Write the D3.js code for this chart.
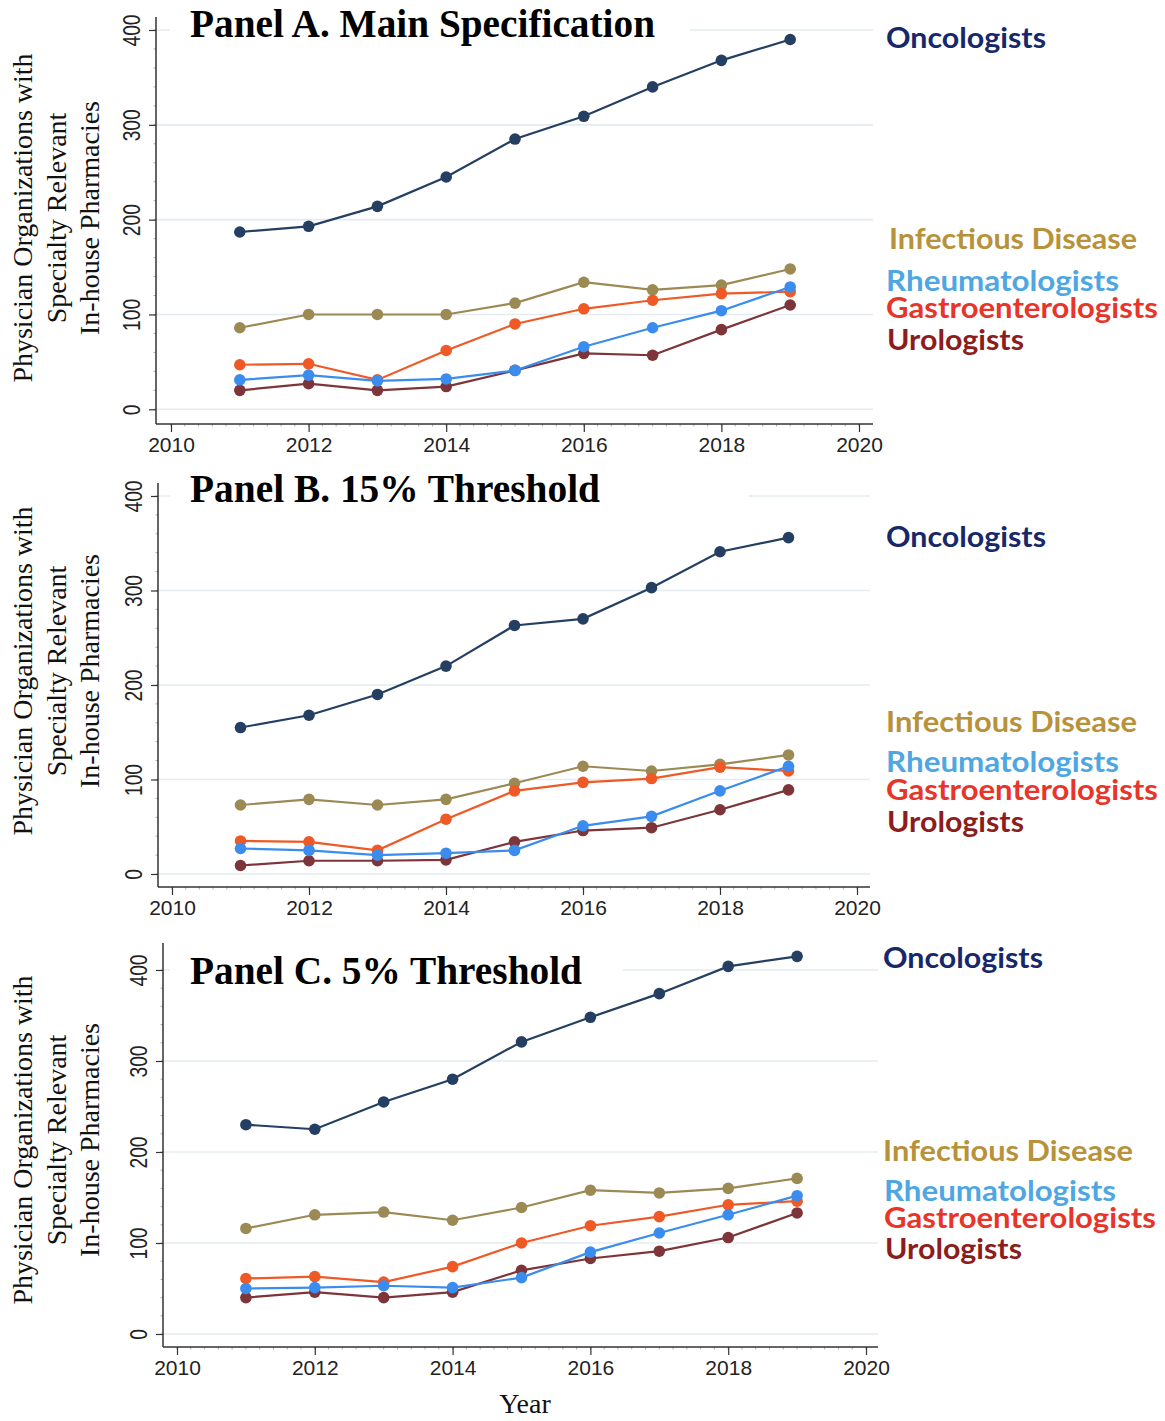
<!DOCTYPE html>
<html><head><meta charset="utf-8">
<script src="https://cdn.jsdelivr.net/npm/d3@7"></script>
<style>body{margin:0;background:#fff}svg{display:block}</style>
</head><body><svg id="c" width="1165" height="1421"></svg>
<script>
// ---------- DATA ----------
const years = [2011, 2012, 2013, 2014, 2015, 2016, 2017, 2018, 2019];
const xTicks = [2010, 2012, 2014, 2016, 2018, 2020];
const yTicks = [0, 100, 200, 300, 400];
const specialties = ["Oncologists", "Infectious Disease", "Rheumatologists", "Gastroenterologists", "Urologists"];
const panelTitles = ["Panel A. Main Specification", "Panel B. 15% Threshold", "Panel C. 5% Threshold"];
const yTitleLines = ["Physician Organizations with", "Specialty Relevant", "In-house Pharmacies"];
const xTitle = "Year";

// Panel A: main specification
const oncA   = [187, 193, 214, 245, 285, 309, 340, 368, 390];
const infA   = [86, 100, 100, 100, 112, 134, 126, 131, 148];
const rheumA = [31, 36, 30, 32, 41, 66, 86, 104, 129];
const gastA  = [47, 48, 31, 62, 90, 106, 115, 122, 124];
const uroA   = [20, 27, 20, 24, 41, 59, 57, 84, 110];
// Panel B: 15% threshold
const oncB   = [155, 168, 190, 220, 263, 270, 303, 341, 356];
const infB   = [73, 79, 73, 79, 96, 114, 109, 116, 126];
const rheumB = [27, 25, 20, 22, 25, 51, 61, 88, 114];
const gastB  = [35, 34, 25, 58, 88, 97, 101, 113, 109];
const uroB   = [9, 14, 14, 15, 34, 46, 49, 68, 89];
// Panel C: 5% threshold
const oncC   = [230, 225, 255, 280, 321, 348, 374, 404, 415];
const infC   = [116, 131, 134, 125, 139, 158, 155, 160, 171];
const rheumC = [50, 51, 53, 51, 62, 90, 111, 131, 152];
const gastC  = [61, 63, 57, 74, 100, 119, 129, 142, 146];
const uroC   = [40, 46, 40, 46, 70, 83, 91, 106, 133];

// ---------- STYLE ----------
const lineColors = {"Oncologists":"#243f62","Infectious Disease":"#9c8a55","Rheumatologists":"#3a8cef","Gastroenterologists":"#ef5926","Urologists":"#7d3539"};
const textColors = {"Oncologists":"#16286a","Infectious Disease":"#b8923a","Rheumatologists":"#4ea6e3","Gastroenterologists":"#e8352a","Urologists":"#8c1d1c"};
const drawOrder = ["Oncologists","Infectious Disease","Gastroenterologists","Urologists","Rheumatologists"];

const panelData = [
  {"Oncologists":oncA,"Infectious Disease":infA,"Rheumatologists":rheumA,"Gastroenterologists":gastA,"Urologists":uroA},
  {"Oncologists":oncB,"Infectious Disease":infB,"Rheumatologists":rheumB,"Gastroenterologists":gastB,"Urologists":uroB},
  {"Oncologists":oncC,"Infectious Disease":infC,"Rheumatologists":rheumC,"Gastroenterologists":gastC,"Urologists":uroC}
];

const layouts = [
  {axX:156, x0:171, x1:859, xEnd:873, y0:409.3, y1:30, top:17, bottom:424, tBase:37, tLen:465, boxR:690, yTC:218,
   legX:[886,889,886,886,887], legB:[48,249,291,318,350], legL:[160,248,233,272,137]},
  {axX:158, x0:172, x1:857, xEnd:870, y0:874, y1:496, top:483, bottom:887, tBase:502, tLen:410, boxR:749, yTC:671,
   legX:[886,886,886,886,887], legB:[547,732,772,800,832], legL:[160,251,233,272,137]},
  {axX:163, x0:177, x1:866, xEnd:878, y0:1334, y1:970, top:943, bottom:1347, tBase:984, tLen:392, boxR:623, yTC:1140,
   legX:[883,883,884,884,885], legB:[968,1161,1201,1228,1259], legL:[160,250,232,272,137]}
];

const svg = d3.select("#c");

panelData.forEach((data, i) => {
  const L = layouts[i];
  const x = d3.scaleLinear().domain([2010, 2020]).range([L.x0, L.x1]);
  const y = d3.scaleLinear().domain([0, 400]).range([L.y0, L.y1]);
  const g = svg.append("g");

  // gridlines
  g.selectAll("line.grid").data(yTicks).join("line")
    .attr("x1", L.axX).attr("x2", L.xEnd)
    .attr("y1", d => y(d)).attr("y2", d => y(d))
    .attr("stroke", "#e4ecef").attr("stroke-width", 1.6);

  // white box behind title
  g.append("rect").attr("x", 170).attr("y", y(400) - 4).attr("width", L.boxR - 170).attr("height", 8).attr("fill", "#fff");

  // minor ticks
  const xMinor = d3.range(2010, 2020.01, 0.2);
  g.selectAll("line.xm").data(xMinor).join("line")
    .attr("x1", d => x(d)).attr("x2", d => x(d)).attr("y1", L.bottom).attr("y2", L.bottom + 2.5)
    .attr("stroke", "#999").attr("stroke-width", 0.8);
  const yMinor = d3.range(0, 401, 20);
  g.selectAll("line.ym").data(yMinor).join("line")
    .attr("x1", L.axX - 2.5).attr("x2", L.axX).attr("y1", d => y(d)).attr("y2", d => y(d))
    .attr("stroke", "#999").attr("stroke-width", 0.8);

  // y axis
  const ya = g.append("g").attr("transform", `translate(${L.axX},0)`)
    .call(d3.axisLeft(y).tickValues(yTicks).tickSize(7).tickSizeOuter(0).tickFormat(d3.format("d")));
  ya.select(".domain").remove();
  ya.selectAll(".tick line").attr("stroke", "#333").attr("stroke-width", 1.2);
  ya.selectAll(".tick text")
    .attr("transform", "rotate(-90)").attr("x", 0).attr("y", -16).attr("dy", 0)
    .attr("text-anchor", "middle")
    .attr("font-family", "'Liberation Sans', Arial, sans-serif").attr("font-size", 23)
    .attr("fill", "#222")
    .attr("textLength", d => String(d).length * 10.7).attr("lengthAdjust", "spacingAndGlyphs");

  // x axis
  const xa = g.append("g").attr("transform", `translate(0,${L.bottom})`)
    .call(d3.axisBottom(x).tickValues(xTicks).tickSize(8).tickSizeOuter(0).tickFormat(d3.format("d")));
  xa.select(".domain").remove();
  xa.selectAll(".tick line").attr("stroke", "#333").attr("stroke-width", 1.2);
  xa.selectAll(".tick text").attr("y", 28).attr("dy", 0)
    .attr("font-family", "'Liberation Sans', Arial, sans-serif").attr("font-size", 21).attr("fill", "#222");

  // axis lines
  g.append("line").attr("x1", L.axX).attr("x2", L.axX).attr("y1", L.top).attr("y2", L.bottom)
    .attr("stroke", "#333").attr("stroke-width", 1.5);
  g.append("line").attr("x1", L.axX).attr("x2", L.xEnd).attr("y1", L.bottom).attr("y2", L.bottom)
    .attr("stroke", "#333").attr("stroke-width", 1.5);

  // title
  g.append("text").attr("x", 190).attr("y", L.tBase).text(panelTitles[i])
    .attr("font-family", "'Liberation Serif', 'Times New Roman', serif").attr("font-weight", "bold")
    .attr("font-size", 39).attr("fill", "#000")
    .attr("textLength", L.tLen).attr("lengthAdjust", "spacingAndGlyphs");

  // y title (3 lines)
  const yt = g.append("text")
    .attr("transform", `translate(0,${L.yTC}) rotate(-90)`)
    .attr("text-anchor", "middle")
    .attr("font-family", "'Liberation Serif', 'Times New Roman', serif").attr("font-size", 28).attr("fill", "#111");
  yTitleLines.forEach((t, k) => {
    yt.append("tspan").attr("x", 0).attr("y", [32, 66, 99][k]).text(t);
  });

  // series
  const line = d3.line().x((d, j) => x(years[j])).y(d => y(d));
  drawOrder.forEach(s => {
    const vals = data[s];
    g.append("path").datum(vals).attr("d", line)
      .attr("fill", "none").attr("stroke", lineColors[s]).attr("stroke-width", 2.2);
    g.selectAll(null).data(vals).join("circle")
      .attr("cx", (d, j) => x(years[j])).attr("cy", d => y(d)).attr("r", 5.8)
      .attr("fill", lineColors[s]);
  });

  // legend labels
  specialties.forEach((s, k) => {
    g.append("text").attr("x", L.legX[k]).attr("y", L.legB[k]).text(s)
      .attr("font-family", "Lato, 'Open Sans', sans-serif").attr("font-weight", "bold")
      .attr("font-size", 28).attr("fill", textColors[s])
      .attr("textLength", L.legL[k]).attr("lengthAdjust", "spacingAndGlyphs");
  });
});

// x axis title
svg.append("text").attr("x", 525).attr("y", 1413).attr("text-anchor", "middle").text(xTitle)
  .attr("font-family", "'Liberation Serif', 'Times New Roman', serif").attr("font-size", 28).attr("fill", "#111");
</script>
</body></html>
